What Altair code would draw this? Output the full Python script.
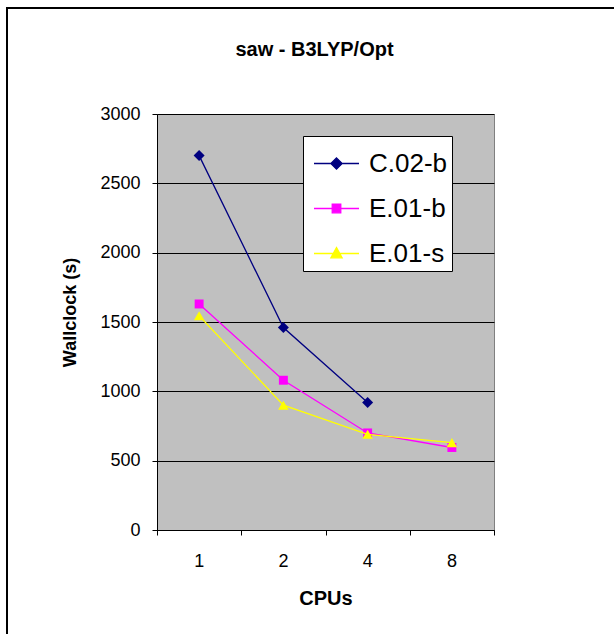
import altair as alt
import pandas as pd

# ---- data ----
cpus = ["1", "2", "4", "8"]
series_names = ["C.02-b", "E.01-b", "E.01-s"]
c02b = [2700, 1460, 920, None]
e01b = [1630, 1080, 700, 595]
e01s = [1545, 900, 690, 630]
y_ticks = [0, 500, 1000, 1500, 2000, 2500, 3000]

# ---- styles ----
colors = ["#000080", "#FF00FF", "#FFFF00"]
markers = ["diamond", "square", "triangle-up"]
marker_sizes = [120, 80, 110]
legend_paths = [
    "M-1,0H1M0,-0.25L0.25,0L0,0.25L-0.25,0Z",
    "M-1,0H1M-0.19,-0.19H0.19V0.19H-0.19Z",
    "M-1,0H1M0,-0.26L0.25,0.19H-0.25Z",
]
FONT = "Liberation Sans"

rows = []
for name, vals in zip(series_names, [c02b, e01b, e01s]):
    for i, (c, v) in enumerate(zip(cpus, vals)):
        if v is None:
            continue
        rows.append({"series": name, "pos": i + 1, "cpu": c, "walltime": v})
df = pd.DataFrame(rows)
cat_df = pd.DataFrame({"pos": list(range(1, len(cpus) + 1)), "cpu": cpus})
boundaries = [i + 0.5 for i in range(len(cpus) + 1)]

W, H = 337, 416
x_scale = alt.Scale(domain=[0.5, len(cpus) + 0.5], nice=False, zero=False)
y_scale = alt.Scale(domain=[0, 3000], nice=False)

x_axis = alt.Axis(
    values=boundaries, labels=False, grid=False, ticks=True, tickSize=5,
    tickColor="black", domainColor="black", title="CPUs",
    titleFont=FONT, titleFontSize=20, titleFontWeight="bold", titleColor="black",
    titleY=68, titleBaseline="middle",
)
y_axis = alt.Axis(
    values=y_ticks, format="d", grid=True, gridColor="black", gridWidth=1, ticks=True,
    tickSize=5, tickColor="black", domainColor="black", labelFont=FONT, labelFontSize=18,
    labelColor="black", labelPadding=12, title="Wallclock (s)",
    titleFont=FONT, titleFontSize=18, titleFontWeight="bold", titleColor="black",
    titleX=-87, titleY=198, titleBaseline="middle", titleAngle=-90,
)

base = alt.Chart(df)

series_layers = []
for k, (name, col, mk, sz) in enumerate(zip(series_names, colors, markers, marker_sizes)):
    sub = base.transform_filter(alt.datum.series == name)
    if k == 0:
        xenc = alt.X("pos:Q", scale=x_scale, axis=x_axis)
        yenc = alt.Y("walltime:Q", scale=y_scale, axis=y_axis)
    else:
        xenc = alt.X("pos:Q", scale=x_scale)
        yenc = alt.Y("walltime:Q", scale=y_scale)
    series_layers.append(
        sub.mark_line(strokeWidth=1.3, color=col).encode(
            x=xenc, y=yenc, order=alt.Order("pos:Q")
        )
    )
    series_layers.append(
        sub.mark_point(filled=True, opacity=1, shape=mk, size=sz, color=col).encode(
            x=alt.X("pos:Q", scale=x_scale),
            y=alt.Y("walltime:Q", scale=y_scale),
        )
    )

leg = alt.Legend(
    title=None, orient="none", legendX=146, legendY=22, padding=4,
    symbolOffset=6, labelOffset=9, labelFont=FONT, labelFontSize=26,
    labelColor="black", strokeColor="black", fillColor="white",
    rowPadding=8, symbolSize=2025, symbolStrokeWidth=1.3,
    labelExpr="datum.label + '\u00a0\u00a0\u00a0'",
)
legend_layer = base.mark_point(filled=True, opacity=1, size=0).encode(
    x=alt.X("pos:Q", scale=x_scale),
    y=alt.Y("walltime:Q", scale=y_scale),
    fill=alt.Fill("series:N", scale=alt.Scale(domain=series_names, range=colors), legend=leg),
    stroke=alt.Stroke("series:N", scale=alt.Scale(domain=series_names, range=colors), legend=leg),
    shape=alt.Shape("series:N", scale=alt.Scale(domain=series_names, range=legend_paths), legend=leg),
)

cat_labels = alt.Chart(cat_df).mark_text(
    font=FONT, fontSize=18, color="black", baseline="middle", align="center"
).encode(
    x=alt.X("pos:Q", scale=x_scale),
    y=alt.value(H + 32),
    text="cpu:N",
)

one = pd.DataFrame({"k": [0]})
frame_left = alt.Chart(one).mark_rule(color="black", strokeWidth=2).encode(
    x=alt.value(-150), y=alt.value(-106), y2=alt.value(530)
)
frame_top = alt.Chart(one).mark_rule(color="black", strokeWidth=2).encode(
    y=alt.value(-106), x=alt.value(-151), x2=alt.value(470)
)

chart = (
    alt.layer(*series_layers, legend_layer, cat_labels, frame_left, frame_top)
    .properties(
        width=W, height=H,
        title=alt.TitleParams(
            "saw - B3LYP/Opt", font=FONT, fontSize=20, fontWeight="bold",
            color="black", anchor="middle", offset=-53, dx=-11, frame="group",
        ),
        autosize=alt.AutoSizeParams(type="none"),
        padding={"left": 157, "top": 114, "right": 120, "bottom": 104},
        background="white",
        view=alt.ViewBackground(fill="#C0C0C0", stroke="#808080", strokeWidth=1),
    )
    .configure_view(fill="#C0C0C0", stroke="#808080", strokeWidth=1)
)

chart.save("out.html", embed_options={"renderer": "svg", "actions": False})
